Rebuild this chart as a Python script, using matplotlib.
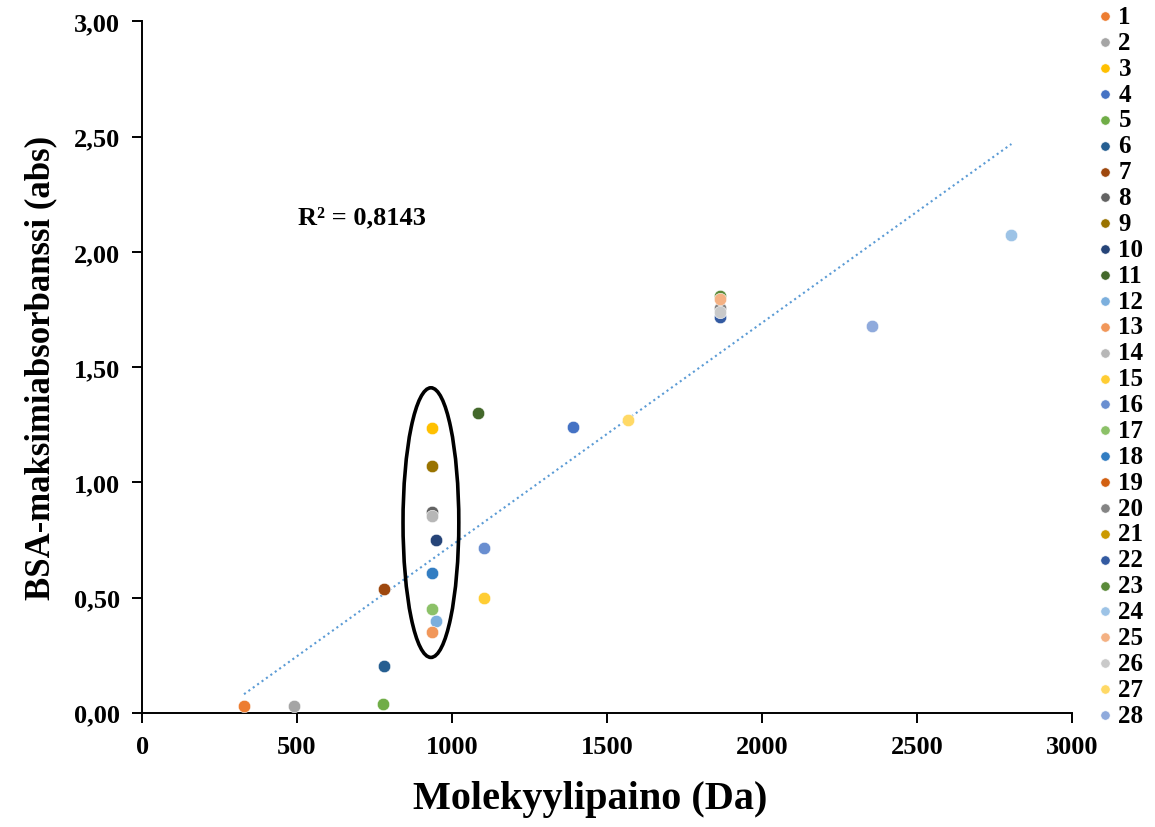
import matplotlib
matplotlib.use("Agg")
import matplotlib.pyplot as plt
from matplotlib.patches import Ellipse
from matplotlib.ticker import FuncFormatter, MultipleLocator
import numpy as np

plt.rcParams.update({
    "font.family": ["Liberation Serif", "DejaVu Serif"],
    "font.weight": "bold",
})

# ── data: molecular weight (Da) vs. BSA max absorbance, one entry per sample ──
labels = [str(i) for i in range(1, 29)]
mw = [329, 490, 935, 1390, 777, 781, 781, 935, 935, 950,
      1083, 950, 935, 935, 1103, 1103, 935, 935, np.nan, 1865,
      np.nan, 1865, 1865, 2805, 1865, 1865, 1567, 2355]
absorb = [0.03, 0.03, 1.236, 1.24, 0.04, 0.204, 0.535, 0.87, 1.07, 0.75,
          1.30, 0.40, 0.35, 0.855, 0.50, 0.713, 0.45, 0.605, np.nan, 1.758,
          np.nan, 1.717, 1.81, 2.075, 1.795, 1.738, 1.27, 1.68]
colors = ["#ED7D31", "#A5A5A5", "#FFC000", "#4472C4", "#70AD47", "#255E91",
          "#9E480E", "#636363", "#997300", "#264478", "#43682B", "#7CAFDD",
          "#F1975A", "#B7B7B7", "#FFCD33", "#698ED0", "#8CC168", "#327DC2",
          "#D26012", "#848484", "#CC9A00", "#335AA1", "#5A8A39", "#9DC3E6",
          "#F4B183", "#C9C9C9", "#FFD966", "#8FAADC"]
r2_text = "R² = 0,8143"

fig = plt.figure(figsize=(11.55, 8.28), dpi=100)
ax = fig.add_axes([0.123, 0.138, 0.805, 0.835])

for lab, x, y, c in zip(labels, mw, absorb, colors):
    ax.scatter([x], [y], s=80, color=c, edgecolors="white", linewidths=0.4,
               label=lab, zorder=3)

# linear trendline over all samples
xs = np.array(mw, dtype=float)
ys = np.array(absorb, dtype=float)
ok = ~np.isnan(xs)
k, b = np.polyfit(xs[ok], ys[ok], 1)
xl = np.array([xs[ok].min(), xs[ok].max()])
ax.plot(xl, k * xl + b, color="#5B9BD5", lw=1.5, ls=(0, (1, 1.6)), zorder=2)

ax.text(503, 2.15, r2_text, fontsize=19, fontweight="bold", ha="left", va="center")

# highlight the ~935 Da group
ax.add_patch(Ellipse((932, 0.825), 180, 1.17, fill=False, edgecolor="black",
                     lw=2.6, zorder=4))

ax.set_xlim(0, 3000)
ax.set_ylim(0, 3.0)
ax.xaxis.set_major_locator(MultipleLocator(500))
ax.yaxis.set_major_locator(MultipleLocator(0.5))
ax.yaxis.set_major_formatter(FuncFormatter(lambda v, p: f"{v:.2f}".replace(".", ",")))
for s in ["top", "right"]:
    ax.spines[s].set_visible(False)
for s in ["left", "bottom"]:
    ax.spines[s].set_linewidth(1.4)
ax.tick_params(axis="both", direction="out", length=7, width=1.4, labelsize=19, pad=9)
for t in ax.get_xticklabels() + ax.get_yticklabels():
    t.set_fontweight("bold")

ax.set_xlabel("Molekyylipaino (Da)", fontsize=29, fontweight="bold")
ax.xaxis.set_label_coords(0.482, -0.098)
ax.set_ylabel("BSA-maksimiabsorbanssi (abs)", fontsize=25, fontweight="bold", labelpad=12)

leg = ax.legend(loc="upper left", bbox_to_anchor=(0.937, 1.008), bbox_transform=fig.transFigure,
                frameon=False, handletextpad=0.15, labelspacing=0.115,
                borderpad=0.0, markerscale=0.75, handlelength=0.8,
                prop={"weight": "bold", "size": 18})

fig.savefig("out.png", dpi=100)
